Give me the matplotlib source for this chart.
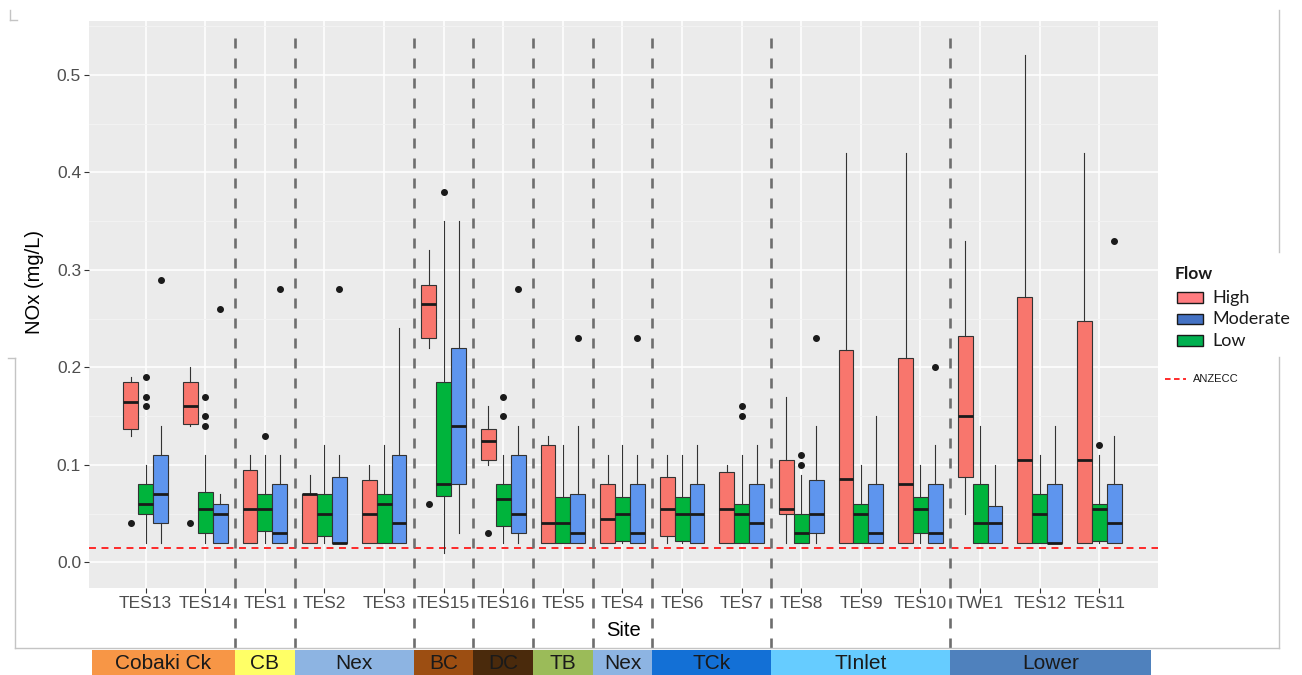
import matplotlib
matplotlib.use("Agg")
import matplotlib.pyplot as plt
from matplotlib.patches import Rectangle
from matplotlib.lines import Line2D
from matplotlib.transforms import blended_transform_factory
import numpy as np

plt.rcParams['font.family'] = ['Liberation Sans', 'DejaVu Sans']
plt.rcParams['lines.scale_dashes'] = False

# ---------------- data ----------------
sites = ["TES13", "TES14", "TES1", "TES2", "TES3", "TES15", "TES16", "TES5", "TES4",
         "TES6", "TES7", "TES8", "TES9", "TES10", "TWE1", "TES12", "TES11"]

regions = ["Cobaki Ck", "CB", "Nex", "BC", "DC", "TB", "Nex", "TCk", "TInlet", "Lower"]
region_sizes = [2, 1, 2, 1, 1, 1, 1, 2, 3, 3]
region_colors = ["#F79646", "#FFFF66", "#8DB4E2", "#9C4E12", "#4A2A0C", "#9BBB59",
                 "#8DB4E2", "#1370D6", "#66CCFF", "#4F81BD"]

# High flow
high_whislo = [0.13, 0.14, 0.02, 0.02, 0.02, 0.22, 0.10, 0.02, 0.02, 0.02, 0.02, 0.02, 0.02, 0.02, 0.05, 0.02, 0.02]
high_q1 = [0.137, 0.142, 0.02, 0.02, 0.02, 0.23, 0.105, 0.02, 0.02, 0.027, 0.02, 0.05, 0.02, 0.02, 0.0875, 0.02, 0.02]
high_med = [0.165, 0.16, 0.055, 0.07, 0.05, 0.265, 0.125, 0.04, 0.045, 0.055, 0.055, 0.055, 0.0855, 0.08, 0.15, 0.105, 0.105]
high_q3 = [0.185, 0.185, 0.095, 0.07, 0.085, 0.285, 0.137, 0.12, 0.08, 0.0875, 0.0925, 0.105, 0.2175, 0.21, 0.2325, 0.2725, 0.2475]
high_whishi = [0.19, 0.20, 0.11, 0.09, 0.10, 0.32, 0.16, 0.13, 0.11, 0.11, 0.10, 0.17, 0.42, 0.42, 0.33, 0.52, 0.42]
high_out = [[0.04], [0.04], [], [], [], [0.06], [0.03], [], [], [], [], [], [], [], [], [], []]

# Low flow
low_whislo = [0.02, 0.02, 0.02, 0.02, 0.02, 0.01, 0.02, 0.02, 0.02, 0.02, 0.02, 0.02, 0.02, 0.02, 0.02, 0.02, 0.02]
low_q1 = [0.05, 0.03, 0.0325, 0.0275, 0.02, 0.068, 0.037, 0.02, 0.022, 0.022, 0.02, 0.02, 0.02, 0.03, 0.02, 0.02, 0.022]
low_med = [0.06, 0.055, 0.055, 0.05, 0.06, 0.08, 0.065, 0.04, 0.05, 0.05, 0.05, 0.03, 0.05, 0.055, 0.04, 0.05, 0.055]
low_q3 = [0.08, 0.0725, 0.07, 0.07, 0.07, 0.185, 0.08, 0.0675, 0.0675, 0.0675, 0.06, 0.05, 0.06, 0.0675, 0.08, 0.07, 0.06]
low_whishi = [0.10, 0.11, 0.11, 0.12, 0.12, 0.35, 0.11, 0.12, 0.12, 0.11, 0.11, 0.09, 0.10, 0.10, 0.14, 0.11, 0.11]
low_out = [[0.19, 0.17, 0.16], [0.17, 0.15, 0.14], [0.13], [], [], [0.38], [0.17, 0.15], [], [], [],
           [0.16, 0.15], [0.11, 0.10], [], [], [], [], [0.12]]

# Moderate flow
mod_whislo = [0.02, 0.02, 0.02, 0.02, 0.02, 0.03, 0.02, 0.02, 0.02, 0.02, 0.02, 0.02, 0.02, 0.02, 0.02, 0.02, 0.02]
mod_q1 = [0.04, 0.02, 0.02, 0.02, 0.02, 0.08, 0.03, 0.02, 0.02, 0.02, 0.02, 0.03, 0.02, 0.02, 0.02, 0.02, 0.02]
mod_med = [0.07, 0.05, 0.03, 0.02, 0.04, 0.14, 0.05, 0.03, 0.03, 0.05, 0.04, 0.05, 0.03, 0.03, 0.04, 0.02, 0.04]
mod_q3 = [0.11, 0.06, 0.08, 0.0875, 0.11, 0.22, 0.11, 0.07, 0.08, 0.08, 0.08, 0.085, 0.08, 0.08, 0.0575, 0.08, 0.08]
mod_whishi = [0.14, 0.07, 0.11, 0.11, 0.24, 0.35, 0.14, 0.14, 0.11, 0.12, 0.12, 0.14, 0.15, 0.12, 0.10, 0.14, 0.13]
mod_out = [[0.29], [0.26], [0.28], [0.28], [], [], [0.28], [0.23], [0.23], [], [], [0.23], [], [0.20], [], [], [0.33]]

anzecc = 0.015

flow_labels = ["High", "Moderate", "Low"]
legend_colors = ["#FF7C80", "#4472C4", "#00B050"]

# ---------------- figure ----------------
W, H = 1302, 675
fig = plt.figure(figsize=(W / 100, H / 100), dpi=100)


def fx(x):
    return x / W


def fy(y):
    return 1 - y / H


ax_l, ax_r, ax_t, ax_b = 88.7, 1157.7, 20.7, 588.3
ax = fig.add_axes([fx(ax_l), fy(ax_b), fx(ax_r) - fx(ax_l), fy(ax_t) - fy(ax_b)])
ax.set_facecolor("#EBEBEB")
for s in ax.spines.values():
    s.set_visible(False)

n = len(sites)
ax.set_xlim(-0.956, 16.98)
ax.set_ylim(-0.0265, 0.5555)

ax.set_axisbelow(True)
ax.set_yticks(np.arange(0, 0.51, 0.1))
ax.set_yticklabels([f"{v:.1f}" for v in np.arange(0, 0.51, 0.1)])
ax.set_yticks(np.arange(0.05, 0.56, 0.1), minor=True)
ax.set_xticks(np.arange(n))
ax.set_xticklabels(sites)
ax.grid(which="major", color="white", linewidth=1.1)
ax.grid(which="minor", axis="y", color="#F4F4F4", linewidth=0.6)
ax.tick_params(which="major", length=3.5, width=0.8, color="#333333",
               labelcolor="#4D4D4D", labelsize=12.5, pad=2)
ax.tick_params(which="minor", length=0)

# guideline
ax.axhline(anzecc, color="#FF1A1A", linewidth=1.3, dashes=(5, 4), zorder=2)

groups = [
    ("High", "#F8766D", -0.25, high_whislo, high_q1, high_med, high_q3, high_whishi, high_out),
    ("Low", "#00B43C", 0.0, low_whislo, low_q1, low_med, low_q3, low_whishi, low_out),
    ("Moderate", "#5E95EE", 0.25, mod_whislo, mod_q1, mod_med, mod_q3, mod_whishi, mod_out),
]
for name, col, off, wlo, q1, med, q3, whi, out in groups:
    stats = [dict(whislo=wlo[i], q1=q1[i], med=med[i], q3=q3[i], whishi=whi[i],
                  fliers=out[i]) for i in range(n)]
    ax.bxp(stats, positions=np.arange(n) + off, widths=0.25, patch_artist=True,
           showcaps=False, manage_ticks=False, zorder=3,
           boxprops=dict(facecolor=col, edgecolor="#333333", linewidth=0.8),
           medianprops=dict(color="#1A1A1A", linewidth=2.0, solid_capstyle="butt"),
           whiskerprops=dict(color="#333333", linewidth=0.8),
           flierprops=dict(marker="o", markerfacecolor="#1A1A1A", markeredgecolor="#1A1A1A",
                           markersize=4, linestyle="none"))

# region separators and region bands
bounds = np.cumsum(region_sizes)[:-1] - 0.5
xd_ya = blended_transform_factory(ax.transData, ax.transAxes)
y_low = (ax_b - 648) / (ax_b - ax_t)
y_high = (ax_b - 28) / (ax_b - ax_t)
for b in bounds:
    ax.plot([b, b], [y_low, y_high], transform=xd_ya, color="#6E6E6E", linewidth=1.9,
            dashes=(7.2, 7.2), clip_on=False, zorder=2.5)

xd_yf = blended_transform_factory(ax.transData, fig.transFigure)
edges = np.concatenate([[-0.90], bounds, [16.87]])
for k, (lab, col) in enumerate(zip(regions, region_colors)):
    x0, x1 = edges[k], edges[k + 1]
    ax.add_patch(Rectangle((x0, 0), x1 - x0, fy(650), transform=xd_yf, facecolor=col,
                           edgecolor="none", clip_on=False, zorder=1))
    ax.text((x0 + x1) / 2, fy(663.5), lab, transform=xd_yf, ha="center", va="center",
            fontsize=15, color="#1A1A1A", clip_on=False, zorder=2)

# axis titles
fig.text(fx((ax_l + ax_r) / 2), fy(630), "Site", ha="center", va="center",
         fontsize=14.5, color="black")
fig.text(fx(34), fy(282), "NOx (mg/L)", ha="center", va="center", rotation=90,
         fontsize=14.5, color="black")

# outer frame
frame_kw = dict(color="#C4C4C4", linewidth=1.0, transform=fig.transFigure)
for (xa, ya), (xb, yb) in [((15, 358), (15, 648)), ((15, 648), (1279, 648)),
                           ((1279, 10), (1279, 252)), ((1279, 357), (1279, 648)),
                           ((8, 358), (15, 358)), ((10, 10), (10, 20)), ((10, 20), (17, 20))]:
    fig.add_artist(Line2D([fx(xa), fx(xb)], [fy(ya), fy(yb)], **frame_kw))

# legend
fig.text(fx(1175), fy(274), "Flow", fontsize=12.5, fontweight="bold",
         family=["Lato", "DejaVu Sans"], ha="left", va="center", color="#1A1A1A")
for k, (lab, col) in enumerate(zip(flow_labels, legend_colors)):
    yc = 297.5 + 21.5 * k
    fig.add_artist(Rectangle((fx(1177), fy(yc + 5.5)), fx(26), 11 / H, facecolor=col,
                             edgecolor="#1A1A1A", linewidth=1.0, transform=fig.transFigure))
    fig.text(fx(1212), fy(yc), lab, fontsize=13, family=["Lato", "DejaVu Sans"],
             ha="left", va="center", color="#1A1A1A")
fig.add_artist(Line2D([fx(1165), fx(1186)], [fy(379), fy(379)], color="#FF1A1A",
                      linewidth=1.3, dashes=(4, 2.5), transform=fig.transFigure))
fig.text(fx(1193), fy(379), "ANZECC", fontsize=8, ha="left", va="center", color="#1A1A1A")

fig.savefig("out.png", dpi=100, facecolor="white")
